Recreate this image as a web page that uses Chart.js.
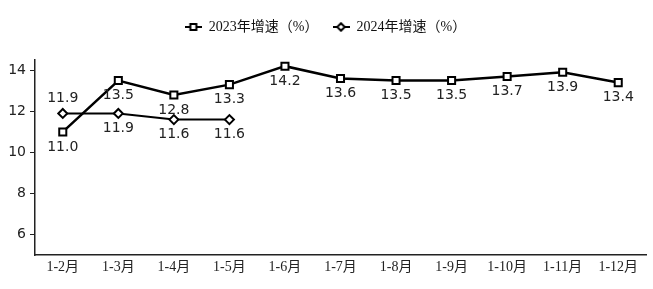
<!DOCTYPE html>
<html><head><meta charset="utf-8">
<script src="https://cdn.jsdelivr.net/npm/chart.js@4/dist/chart.umd.min.js"></script>
<style>html,body{margin:0;padding:0;background:#fff}</style>
</head><body>
<canvas id="c" width="653" height="289"></canvas>
<script>
const categories = ['1-2月','1-3月','1-4月','1-5月','1-6月','1-7月','1-8月','1-9月','1-10月','1-11月','1-12月'];
const growth2023 = [11.0,13.5,12.8,13.3,14.2,13.6,13.5,13.5,13.7,13.9,13.4];
const growth2024 = [11.9,11.9,11.6,11.6];
const yTicks = [6,8,10,12,14];
const seriesNames = ['2023年增速（%）','2024年增速（%）'];

const labelFont = '14px "DejaVu Sans", Verdana, sans-serif';
const cjkFont = '"Liberation Serif", "Noto Sans CJK SC", serif';

function legendIcon(kind){
  const cv = document.createElement('canvas');
  cv.width = 17; cv.height = 10;
  const g = cv.getContext('2d');
  g.strokeStyle = '#000'; g.lineWidth = 2;
  g.beginPath(); g.moveTo(0,5); g.lineTo(17,5); g.stroke();
  g.fillStyle = '#fff';
  if (kind === 'square') {
    g.fillRect(5.5,2,6,6); g.strokeRect(5.5,2,6,6);
  } else {
    g.beginPath(); g.moveTo(8.5,1.2); g.lineTo(12.3,5); g.lineTo(8.5,8.8); g.lineTo(4.7,5); g.closePath();
    g.fill(); g.stroke();
  }
  return cv;
}
const icons = [legendIcon('square'), legendIcon('diamond')];

const legendGap = {
  id: 'legendGap',
  beforeLayout(chart, args, opts) {
    const lg = chart.legend;
    if (lg && !lg._gapPatched) {
      const orig = lg.fit;
      lg.fit = function() { orig.call(this); this.height += opts.extra; };
      lg._gapPatched = true;
    }
  }
};

const valueLabels = {
  id: 'valueLabels',
  afterDatasetsDraw(chart, args, opts) {
    const ctx = chart.ctx;
    ctx.save();
    ctx.font = labelFont;
    ctx.fillStyle = '#222';
    ctx.textAlign = 'center';
    ctx.textBaseline = 'middle';
    chart.data.datasets.forEach((ds, di) => {
      const meta = chart.getDatasetMeta(di);
      const place = opts.placement[di];
      meta.data.forEach((pt, i) => {
        const v = ds.data[i];
        if (v == null) return;
        const dy = place[i] === 'above' ? -15 : 15;
        ctx.fillText(v.toFixed(1), pt.x, pt.y + dy);
      });
    });
    ctx.restore();
  }
};

new Chart(document.getElementById('c'), {
  type: 'line',
  data: {
    labels: categories,
    datasets: [
      {
        label: seriesNames[0], data: growth2023,
        borderColor: '#000', borderWidth: 2.5, backgroundColor: '#fff',
        pointStyle: 'rect', pointRadius: 5, pointBorderWidth: 2,
        pointBackgroundColor: '#fff', pointBorderColor: '#000', tension: 0
      },
      {
        label: seriesNames[1], data: growth2024,
        borderColor: '#000', borderWidth: 2, backgroundColor: '#fff',
        pointStyle: 'rectRot', pointRadius: 4.5, pointBorderWidth: 2,
        pointBackgroundColor: '#fff', pointBorderColor: '#000', tension: 0
      }
    ]
  },
  options: {
    responsive: false,
    animation: false,
    layout: { padding: { top: 6, right: 2, left: 0, bottom: 9 } },
    plugins: {
      tooltip: { enabled: false },
      legendGap: { extra: 16 },
      legend: {
        position: 'top',
        labels: {
          usePointStyle: true,
          pointStyleWidth: 17,
          color: '#111',
          font: { family: cjkFont, size: 14 },
          padding: 14,
          generateLabels(chart) {
            return chart.data.datasets.map((ds, i) => ({
              text: ds.label, pointStyle: icons[i], datasetIndex: i,
              fontColor: '#111', lineWidth: 0, strokeStyle: '#000', fillStyle: '#fff'
            }));
          }
        }
      },
      valueLabels: {
        placement: [
          growth2023.map(() => 'below'),
          ['above','below','below','below']
        ]
      }
    },
    scales: {
      x: {
        offset: true,
        grid: { display: false, drawTicks: false, tickLength: 0 },
        border: { display: true, color: '#222', width: 1.5 },
        ticks: { color: '#222', font: { family: cjkFont, size: 14 }, padding: 4, maxRotation: 0, autoSkip: false }
      },
      y: {
        min: 5, max: 14.5,
        afterBuildTicks(scale) { scale.ticks = yTicks.map(v => ({ value: v })); },
        afterFit(scale) { scale.width = 35; },
        grid: { display: true, drawOnChartArea: false, drawTicks: true, tickLength: 5, color: '#222' },
        border: { display: true, color: '#222', width: 1.5 },
        ticks: { color: '#222', font: { family: '"DejaVu Sans", Verdana, sans-serif', size: 14 }, padding: 4 }
      }
    }
  },
  plugins: [legendGap, valueLabels]
});
</script>
</body></html>
